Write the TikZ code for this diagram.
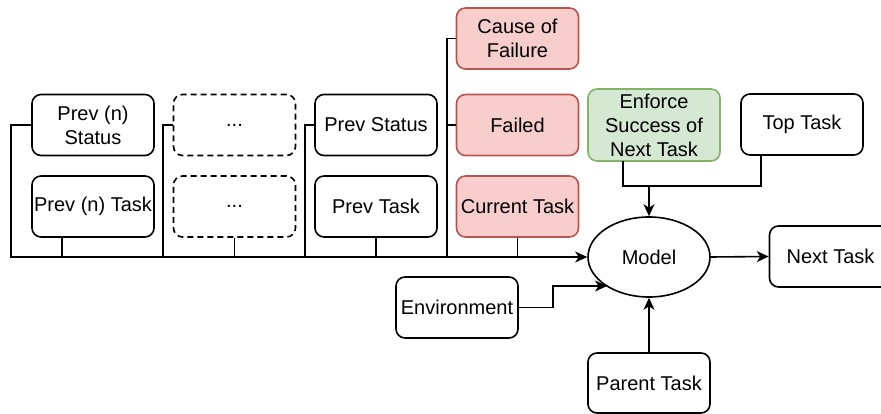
\documentclass[tikz,border=0pt]{standalone}
\usepackage{fontspec}
\setmainfont{Liberation Sans}
\usetikzlibrary{shapes.geometric,arrows.meta}

\definecolor{redfill}{HTML}{F8CECC}
\definecolor{redline}{HTML}{B85450}
\definecolor{greenfill}{HTML}{D5E8D4}
\definecolor{greenline}{HTML}{82B366}

\tikzset{
  box/.style={draw=black, line width=1.6pt, rounded corners=9pt, rectangle,
    minimum width=122pt, minimum height=61pt, inner sep=0pt, align=center,
    font=\fontsize{20}{24}\selectfont},
  dashbox/.style={box, dash pattern=on 6pt off 4pt},
  redbox/.style={box, draw=redline, fill=redfill},
  greenbox/.style={box, draw=greenline, fill=greenfill},
  modelshape/.style={draw=black, line width=1.6pt, ellipse, minimum width=122pt,
    minimum height=80pt, inner sep=0pt, font=\fontsize{20}{24}\selectfont},
  link/.style={line width=1.6pt},
  arr/.style={link, -{Stealth[length=12pt,width=11pt,inset=3.5pt]}}
}

\begin{document}
\begin{tikzpicture}[x=1pt, y=-1pt]
\useasboundingbox (0,0) rectangle (881,414);
\clip (0,0) rectangle (881,414);

% history columns
\node[box] (pns) at (93,125) {Prev (n)\\Status};
\node[box] (pnt) at (93,206.5) {Prev (n) Task};
\node[dashbox] (d1) at (234.5,125) {...};
\node[dashbox] (d2) at (234.5,206.5) {...};
\node[box] (ps) at (376,125) {Prev Status};
\node[box] (pt) at (376,206.5) {Prev Task};

% current attempt
\node[redbox] (cf) at (517.5,38.5) {Cause of\\Failure};
\node[redbox] (fl) at (517.5,125) {Failed};
\node[redbox] (ct) at (517.5,206.5) {Current Task};

% goals
\node[greenbox, minimum width=132pt, minimum height=72pt] (en) at (654,125) {Enforce\\Success of\\Next Task};
\node[box] (tt) at (802,124.5) {Top Task};

% model and its neighbours
\node[modelshape] (model) at (649,257) {Model};
\node[box] (nt) at (830.5,256.5) {Next Task};
\node[box] (env) at (457,307.5) {Environment};
\node[box, minimum height=60pt] (par) at (649,383) {Parent Task};

% bus junctions
\coordinate (bl) at (11,257);
\coordinate (b2) at (163,257);
\coordinate (b3) at (305,257);
\coordinate (b4) at (447,257);
\coordinate (pnts) at (62,237);
\coordinate (ej) at (649,186);
\coordinate (envin) at (607,286);

% main bus into the model
\draw[arr] (pns.west) -| (bl) -- (model.west);
\draw[link] (pnts) -- (pnts |- bl);
\draw[link] (d1.west) -| (b2);
\draw[link] (d2.south) -- (d2.south |- bl);
\draw[link] (ps.west) -| (b3);
\draw[link] (pt.south) -- (pt.south |- bl);
\draw[link] (cf.west) -| (b4);
\draw[link] (fl.west) -- (fl.west -| b4);
\draw[link] (ct.south) -- (ct.south |- bl);

% goals into the model
\draw[link] (623,161) |- (ej) -| (761,155);
\draw[arr] (ej) -- (model.north);

% other inputs and output
\draw[arr] (env.east) -- (553,307.5) |- (envin);
\draw[arr] (par.north) -- (model.south);
\draw[arr] (model.east) -- (nt.west);
\end{tikzpicture}
\end{document}
